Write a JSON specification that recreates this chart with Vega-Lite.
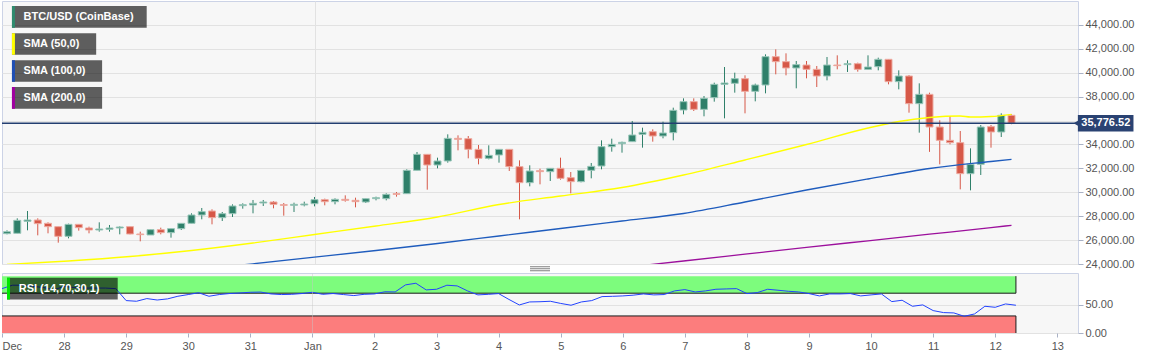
{
"$schema": "https://vega.github.io/schema/vega-lite/v6.json",
"padding": 0,
"background": "white",
"bounds": "flush",
"spacing": 9,
"config": {
  "font": "Liberation Sans",
  "view": {"fill": "#f7f7f7", "stroke": "#ccd3e6", "strokeWidth": 1},
  "axis": {"labelColor": "#555555", "labelFontSize": 11, "tickColor": "#a9b1c5", "gridColor": "#e2e2e2", "title": null, "domain": false, "labelOverlap": false}
},
"datasets": {
  "candles": [
{"t":"2020-12-27T00:00","o":26538,"h":26817,"l":26482,"c":26705,"r":78},
{"t":"2020-12-27T04:00","o":26566,"h":27820,"l":26566,"c":27653,"r":84},
{"t":"2020-12-27T08:00","o":27569,"h":28434,"l":26817,"c":27681,"r":84},
{"t":"2020-12-27T12:00","o":27681,"h":27820,"l":26398,"c":27374,"r":82},
{"t":"2020-12-27T16:00","o":27402,"h":27486,"l":26566,"c":27123,"r":80},
{"t":"2020-12-27T20:00","o":27123,"h":27123,"l":25785,"c":26315,"r":76},
{"t":"2020-12-28T00:00","o":26315,"h":27374,"l":26147,"c":27318,"r":81.7},
{"t":"2020-12-28T04:00","o":27318,"h":27318,"l":26789,"c":27040,"r":80},
{"t":"2020-12-28T08:00","o":27012,"h":27123,"l":26566,"c":26845,"r":79},
{"t":"2020-12-28T12:00","o":26845,"h":27486,"l":26705,"c":26928,"r":79},
{"t":"2020-12-28T16:00","o":26900,"h":27263,"l":26705,"c":27012,"r":79},
{"t":"2020-12-28T20:00","o":27012,"h":27151,"l":26482,"c":27095,"r":78},
{"t":"2020-12-29T00:00","o":27123,"h":27123,"l":26482,"c":26510,"r":57},
{"t":"2020-12-29T04:00","o":26510,"h":26705,"l":25896,"c":26454,"r":55.8},
{"t":"2020-12-29T08:00","o":26426,"h":26873,"l":26426,"c":26873,"r":60.5},
{"t":"2020-12-29T12:00","o":26873,"h":27040,"l":26482,"c":26622,"r":58},
{"t":"2020-12-29T16:00","o":26622,"h":26956,"l":26203,"c":26956,"r":60},
{"t":"2020-12-29T20:00","o":26956,"h":27402,"l":26845,"c":27402,"r":64.6},
{"t":"2020-12-30T00:00","o":27402,"h":28239,"l":27402,"c":28099,"r":67.6},
{"t":"2020-12-30T04:00","o":28099,"h":28685,"l":27737,"c":28378,"r":70.8},
{"t":"2020-12-30T08:00","o":28434,"h":28573,"l":27318,"c":27876,"r":64.6},
{"t":"2020-12-30T12:00","o":27876,"h":28350,"l":27597,"c":28211,"r":67.6},
{"t":"2020-12-30T16:00","o":28211,"h":28991,"l":27932,"c":28852,"r":69.4},
{"t":"2020-12-30T20:00","o":28880,"h":29075,"l":28629,"c":28963,"r":70.4},
{"t":"2020-12-31T00:00","o":28936,"h":29354,"l":28239,"c":29075,"r":71.6},
{"t":"2020-12-31T04:00","o":29103,"h":29354,"l":28852,"c":29187,"r":72},
{"t":"2020-12-31T08:00","o":29187,"h":29270,"l":28657,"c":28991,"r":68.7},
{"t":"2020-12-31T12:00","o":28963,"h":29103,"l":28043,"c":28908,"r":67.6},
{"t":"2020-12-31T16:00","o":28908,"h":29131,"l":28350,"c":28991,"r":68},
{"t":"2020-12-31T20:00","o":28936,"h":29214,"l":28824,"c":29019,"r":69.4},
{"t":"2021-01-01T00:00","o":29047,"h":29605,"l":28824,"c":29382,"r":71.6},
{"t":"2021-01-01T04:00","o":29382,"h":29465,"l":28908,"c":29214,"r":68},
{"t":"2021-01-01T08:00","o":29214,"h":29493,"l":28991,"c":29410,"r":69.4},
{"t":"2021-01-01T12:00","o":29410,"h":29744,"l":29214,"c":29326,"r":67.6},
{"t":"2021-01-01T16:00","o":29326,"h":29549,"l":28740,"c":29214,"r":65.8},
{"t":"2021-01-01T20:00","o":29187,"h":29465,"l":29103,"c":29465,"r":68},
{"t":"2021-01-02T00:00","o":29465,"h":29633,"l":29326,"c":29549,"r":68.7},
{"t":"2021-01-02T04:00","o":29465,"h":29911,"l":29326,"c":29828,"r":72.5},
{"t":"2021-01-02T08:00","o":29884,"h":30023,"l":29633,"c":29828,"r":72.2},
{"t":"2021-01-02T12:00","o":29884,"h":31919,"l":29884,"c":31835,"r":84.6},
{"t":"2021-01-02T16:00","o":31835,"h":33369,"l":31835,"c":33174,"r":87.5},
{"t":"2021-01-02T20:00","o":33174,"h":33174,"l":30218,"c":32281,"r":75.8},
{"t":"2021-01-03T00:00","o":32281,"h":32895,"l":32003,"c":32616,"r":76.9},
{"t":"2021-01-03T04:00","o":32616,"h":34847,"l":32477,"c":34512,"r":84},
{"t":"2021-01-03T08:00","o":34512,"h":34763,"l":33508,"c":34428,"r":82.8},
{"t":"2021-01-03T12:00","o":34484,"h":34707,"l":32839,"c":33592,"r":74},
{"t":"2021-01-03T16:00","o":33592,"h":33955,"l":32337,"c":32839,"r":67},
{"t":"2021-01-03T20:00","o":32839,"h":33927,"l":32756,"c":33090,"r":68},
{"t":"2021-01-04T00:00","o":33118,"h":33592,"l":32477,"c":33592,"r":69.3},
{"t":"2021-01-04T04:00","o":33592,"h":33592,"l":31780,"c":32142,"r":59},
{"t":"2021-01-04T08:00","o":32142,"h":32672,"l":27737,"c":30804,"r":49.3},
{"t":"2021-01-04T12:00","o":30804,"h":32254,"l":30497,"c":31780,"r":54.6},
{"t":"2021-01-04T16:00","o":31807,"h":31975,"l":30664,"c":31724,"r":55},
{"t":"2021-01-04T20:00","o":31724,"h":32003,"l":30943,"c":32003,"r":55.8},
{"t":"2021-01-05T00:00","o":32003,"h":32895,"l":31055,"c":31166,"r":52},
{"t":"2021-01-05T04:00","o":31222,"h":31696,"l":29911,"c":30887,"r":48.8},
{"t":"2021-01-05T08:00","o":30887,"h":31863,"l":30831,"c":31835,"r":54.6},
{"t":"2021-01-05T12:00","o":31835,"h":32449,"l":31166,"c":32170,"r":57},
{"t":"2021-01-05T16:00","o":32198,"h":34345,"l":31919,"c":33815,"r":64},
{"t":"2021-01-05T20:00","o":33815,"h":34484,"l":33397,"c":34010,"r":64.5},
{"t":"2021-01-06T00:00","o":34066,"h":34233,"l":33313,"c":34178,"r":65.2},
{"t":"2021-01-06T04:00","o":34233,"h":35962,"l":34233,"c":34791,"r":66.5},
{"t":"2021-01-06T08:00","o":34847,"h":35404,"l":33731,"c":35014,"r":68.7},
{"t":"2021-01-06T12:00","o":35070,"h":35265,"l":34233,"c":34707,"r":67},
{"t":"2021-01-06T16:00","o":34707,"h":35906,"l":34512,"c":34958,"r":67.6},
{"t":"2021-01-06T20:00","o":34986,"h":37077,"l":34345,"c":36854,"r":74},
{"t":"2021-01-07T00:00","o":36882,"h":37858,"l":36520,"c":37579,"r":76.3},
{"t":"2021-01-07T04:00","o":37579,"h":37858,"l":36798,"c":36938,"r":72.2},
{"t":"2021-01-07T08:00","o":36938,"h":38053,"l":36353,"c":37858,"r":74},
{"t":"2021-01-07T12:00","o":37914,"h":39169,"l":37579,"c":39029,"r":76.9},
{"t":"2021-01-07T16:00","o":39029,"h":40479,"l":36185,"c":39141,"r":77.5},
{"t":"2021-01-07T20:00","o":39113,"h":40005,"l":38332,"c":39503,"r":78},
{"t":"2021-01-08T00:00","o":39503,"h":39782,"l":36603,"c":38444,"r":69.3},
{"t":"2021-01-08T04:00","o":38444,"h":39085,"l":37607,"c":38974,"r":71},
{"t":"2021-01-08T08:00","o":38974,"h":41539,"l":38276,"c":41344,"r":76.9},
{"t":"2021-01-08T12:00","o":41344,"h":41957,"l":39866,"c":40925,"r":75.2},
{"t":"2021-01-08T16:00","o":40925,"h":41622,"l":39782,"c":40396,"r":73.4},
{"t":"2021-01-08T20:00","o":40396,"h":40981,"l":38695,"c":40674,"r":72.2},
{"t":"2021-01-09T00:00","o":40646,"h":40981,"l":39531,"c":40284,"r":69.3},
{"t":"2021-01-09T04:00","o":40284,"h":40563,"l":38806,"c":39726,"r":65.2},
{"t":"2021-01-09T08:00","o":39726,"h":41316,"l":39364,"c":40646,"r":68.7},
{"t":"2021-01-09T12:00","o":40646,"h":41455,"l":40284,"c":40591,"r":68.7},
{"t":"2021-01-09T16:00","o":40674,"h":41037,"l":40061,"c":40758,"r":69.3},
{"t":"2021-01-09T20:00","o":40758,"h":40842,"l":40089,"c":40284,"r":65.2},
{"t":"2021-01-10T00:00","o":40284,"h":41455,"l":40284,"c":40479,"r":67},
{"t":"2021-01-10T04:00","o":40507,"h":41260,"l":40200,"c":41121,"r":68.7},
{"t":"2021-01-10T08:00","o":41121,"h":41121,"l":39029,"c":39252,"r":55.2},
{"t":"2021-01-10T12:00","o":39252,"h":40200,"l":38611,"c":39726,"r":57.6},
{"t":"2021-01-10T16:00","o":39726,"h":39810,"l":36659,"c":37412,"r":47},
{"t":"2021-01-10T20:00","o":37412,"h":39113,"l":34986,"c":38193,"r":49.4},
{"t":"2021-01-11T00:00","o":38193,"h":38332,"l":33380,"c":35460,"r":39.4},
{"t":"2021-01-11T04:00","o":35460,"h":36020,"l":32337,"c":34344,"r":35.9},
{"t":"2021-01-11T08:00","o":34344,"h":36380,"l":34010,"c":34149,"r":35.3},
{"t":"2021-01-11T12:00","o":34149,"h":35125,"l":30245,"c":31556,"r":29.4},
{"t":"2021-01-11T16:00","o":31556,"h":33675,"l":30162,"c":32337,"r":33.5},
{"t":"2021-01-11T20:00","o":32337,"h":35627,"l":31446,"c":35460,"r":47},
{"t":"2021-01-12T00:00","o":35488,"h":35627,"l":33730,"c":35042,"r":45.2},
{"t":"2021-01-12T04:00","o":35042,"h":36605,"l":34623,"c":36438,"r":51.1},
{"t":"2021-01-12T08:00","o":36438,"h":36521,"l":35690,"c":35776.52,"r":48.8}
  ],
  "sma": [
{"t":"2020-12-27T00:00","s":"SMA (50,0)","v":23958},
{"t":"2020-12-28T00:00","s":"SMA (50,0)","v":24251},
{"t":"2020-12-29T00:00","s":"SMA (50,0)","v":24628},
{"t":"2020-12-30T00:00","s":"SMA (50,0)","v":25130},
{"t":"2020-12-31T00:00","s":"SMA (50,0)","v":25757},
{"t":"2021-01-01T00:00","s":"SMA (50,0)","v":26468},
{"t":"2021-01-02T00:00","s":"SMA (50,0)","v":27179},
{"t":"2021-01-03T00:00","s":"SMA (50,0)","v":27932},
{"t":"2021-01-04T00:00","s":"SMA (50,0)","v":28977},
{"t":"2021-01-05T00:00","s":"SMA (50,0)","v":29688},
{"t":"2021-01-06T00:00","s":"SMA (50,0)","v":30399},
{"t":"2021-01-07T00:00","s":"SMA (50,0)","v":31445},
{"t":"2021-01-08T00:00","s":"SMA (50,0)","v":32700},
{"t":"2021-01-09T00:00","s":"SMA (50,0)","v":33996},
{"t":"2021-01-10T00:00","s":"SMA (50,0)","v":35377},
{"t":"2021-01-10T12:00","s":"SMA (50,0)","v":35920},
{"t":"2021-01-11T00:00","s":"SMA (50,0)","v":36255},
{"t":"2021-01-11T12:00","s":"SMA (50,0)","v":36380},
{"t":"2021-01-11T16:00","s":"SMA (50,0)","v":36297},
{"t":"2021-01-12T00:00","s":"SMA (50,0)","v":36339},
{"t":"2021-01-12T08:00","s":"SMA (50,0)","v":36522},
{"t":"2020-12-30T00:00","s":"SMA (100,0)","v":23473},
{"t":"2020-12-31T00:00","s":"SMA (100,0)","v":24017},
{"t":"2021-01-01T00:00","s":"SMA (100,0)","v":24569},
{"t":"2021-01-02T00:00","s":"SMA (100,0)","v":25129},
{"t":"2021-01-03T00:00","s":"SMA (100,0)","v":25715},
{"t":"2021-01-04T00:00","s":"SMA (100,0)","v":26342},
{"t":"2021-01-05T00:00","s":"SMA (100,0)","v":26970},
{"t":"2021-01-06T00:00","s":"SMA (100,0)","v":27597},
{"t":"2021-01-07T00:00","s":"SMA (100,0)","v":28224},
{"t":"2021-01-08T00:00","s":"SMA (100,0)","v":29186},
{"t":"2021-01-09T00:00","s":"SMA (100,0)","v":30190},
{"t":"2021-01-10T00:00","s":"SMA (100,0)","v":31110},
{"t":"2021-01-11T00:00","s":"SMA (100,0)","v":31989},
{"t":"2021-01-12T00:00","s":"SMA (100,0)","v":32574},
{"t":"2021-01-12T08:00","s":"SMA (100,0)","v":32758},
{"t":"2021-01-06T00:00","s":"SMA (200,0)","v":23690},
{"t":"2021-01-07T00:00","s":"SMA (200,0)","v":24251},
{"t":"2021-01-08T00:00","s":"SMA (200,0)","v":24820},
{"t":"2021-01-09T00:00","s":"SMA (200,0)","v":25389},
{"t":"2021-01-10T00:00","s":"SMA (200,0)","v":25941},
{"t":"2021-01-11T00:00","s":"SMA (200,0)","v":26493},
{"t":"2021-01-12T00:00","s":"SMA (200,0)","v":27045},
{"t":"2021-01-12T08:00","s":"SMA (200,0)","v":27237}
  ],
  "bands": [
    {"zone": "overbought", "lo": 70, "hi": 100, "edge": 70},
    {"zone": "oversold", "lo": 0, "hi": 30, "edge": 30}
  ]
},
"vconcat": [
{
  "width": 1076,
  "height": 263,
  "layer": [
    {
      "data": {"name": "candles"},
      "mark": {"type": "rule", "clip": true, "strokeWidth": 1},
      "encoding": {
        "x": {"field": "t", "type": "temporal",
              "scale": {"domain": [{"year": 2020, "month": 12, "date": 27}, {"year": 2021, "month": 1, "date": 13, "hours": 8}]},
              "axis": {"values": [{"year": 2021, "month": 1, "date": 1}], "tickCount": 40, "labels": false, "ticks": false, "domain": false, "grid": true, "gridColor": "#e2e2e2", "title": null}},
        "y": {"field": "l", "type": "quantitative",
              "scale": {"domain": [24000, 46000], "nice": false, "zero": false},
              "axis": {"orient": "right", "values": [24000, 26000, 28000, 30000, 32000, 34000, 36000, 38000, 40000, 42000, 44000], "tickCount": 30, "labelExpr": "datum.value == 36000 ? '' : format(datum.value, ',.2f')", "labelOverlap": false, "grid": true, "tickSize": 5, "labelPadding": 2, "domain": false, "title": null}},
        "y2": {"field": "h"},
        "color": {"condition": {"test": "datum.c >= datum.o", "value": "#2f806a"}, "value": "#d65848"}
      }
    },
    {
      "data": {"name": "candles"},
      "mark": {"type": "bar", "clip": true, "width": 7, "strokeWidth": 1},
      "encoding": {
        "x": {"field": "t", "type": "temporal"},
        "y": {"field": "o", "type": "quantitative"},
        "y2": {"field": "c"},
        "fill": {"condition": {"test": "datum.c >= datum.o", "value": "#2f806a"}, "value": "#d65848"},
        "stroke": {"condition": {"test": "datum.c >= datum.o", "value": "#98c6b9"}, "value": "#eeaaa0"}
      }
    },
    {
      "data": {"name": "sma"},
      "mark": {"type": "line", "clip": true, "strokeWidth": 1.3, "interpolate": "monotone"},
      "encoding": {
        "x": {"field": "t", "type": "temporal"},
        "y": {"field": "v", "type": "quantitative"},
        "color": {"field": "s", "type": "nominal", "scale": {"domain": ["SMA (50,0)", "SMA (100,0)", "SMA (200,0)"], "range": ["#ffff00", "#1f5cbd", "#9c109c"]}, "legend": null}
      }
    },
    {
      "data": {"values": [{}]},
      "mark": {"type": "rule", "color": "#233e70", "strokeWidth": 1.5},
      "encoding": {"y": {"datum": 35776.52}}
    },
    {
      "data": {"values": [{}]},
      "mark": {"type": "rect", "color": "#2a4272", "clip": false},
      "encoding": {
        "x": {"datum": {"year": 2021, "month": 1, "date": 13, "hours": 9, "minutes": 54}, "type": "temporal"},
        "x2": {"datum": {"year": 2021, "month": 1, "date": 14, "hours": 7, "minutes": 36}},
        "y": {"datum": 36464}, "y2": {"datum": 35084}
      }
    },
    {
      "data": {"values": [{}]},
      "mark": {"type": "point", "shape": "triangle-left", "filled": true, "color": "#2a4272", "size": 30, "opacity": 1, "clip": false},
      "encoding": {
        "x": {"datum": {"year": 2021, "month": 1, "date": 13, "hours": 9, "minutes": 10}, "type": "temporal"},
        "y": {"datum": 35776.52}
      }
    },
    {
      "data": {"values": [{}]},
      "mark": {"type": "text", "color": "white", "fontWeight": "bold", "fontSize": 11, "align": "center", "baseline": "middle", "clip": false},
      "encoding": {
        "x": {"datum": {"year": 2021, "month": 1, "date": 13, "hours": 20, "minutes": 48}, "type": "temporal"},
        "y": {"datum": 35776.52},
        "text": {"value": "35,776.52"}
      }
    },
    {
      "data": {"values": [{}]},
      "mark": {"type": "rect", "color": "black", "opacity": 0.62},
      "encoding": {
        "x": {"datum": {"year": 2020, "month": 12, "date": 27, "hours": 1, "minutes": 56}, "type": "temporal"},
        "x2": {"datum": {"year": 2020, "month": 12, "date": 29, "hours": 6, "minutes": 31}},
        "y": {"datum": 45582}, "y2": {"datum": 43767}
      }
    },
    {
      "data": {"values": [{}]},
      "mark": {"type": "rect", "color": "black", "opacity": 0.62},
      "encoding": {
        "x": {"datum": {"year": 2020, "month": 12, "date": 27, "hours": 1, "minutes": 56}, "type": "temporal"},
        "x2": {"datum": {"year": 2020, "month": 12, "date": 28, "hours": 10, "minutes": 48}},
        "y": {"datum": 43298}, "y2": {"datum": 41508}
      }
    },
    {
      "data": {"values": [{}]},
      "mark": {"type": "rect", "color": "black", "opacity": 0.62},
      "encoding": {
        "x": {"datum": {"year": 2020, "month": 12, "date": 27, "hours": 1, "minutes": 56}, "type": "temporal"},
        "x2": {"datum": {"year": 2020, "month": 12, "date": 28, "hours": 13, "minutes": 7}},
        "y": {"datum": 41040}, "y2": {"datum": 39250}
      }
    },
    {
      "data": {"values": [{}]},
      "mark": {"type": "rect", "color": "black", "opacity": 0.62},
      "encoding": {
        "x": {"datum": {"year": 2020, "month": 12, "date": 27, "hours": 1, "minutes": 56}, "type": "temporal"},
        "x2": {"datum": {"year": 2020, "month": 12, "date": 28, "hours": 13, "minutes": 7}},
        "y": {"datum": 38806}, "y2": {"datum": 36991}
      }
    },
    {
      "data": {"values": [{}]},
      "mark": {"type": "rect", "color": "#2e8b6e"},
      "encoding": {
        "x": {"datum": {"year": 2020, "month": 12, "date": 27, "hours": 1, "minutes": 56}, "type": "temporal"},
        "x2": {"datum": {"year": 2020, "month": 12, "date": 27, "hours": 3, "minutes": 6}},
        "y": {"datum": 45582}, "y2": {"datum": 43767}
      }
    },
    {
      "data": {"values": [{}]},
      "mark": {"type": "rect", "color": "#ffff00"},
      "encoding": {
        "x": {"datum": {"year": 2020, "month": 12, "date": 27, "hours": 1, "minutes": 56}, "type": "temporal"},
        "x2": {"datum": {"year": 2020, "month": 12, "date": 27, "hours": 3, "minutes": 6}},
        "y": {"datum": 43298}, "y2": {"datum": 41508}
      }
    },
    {
      "data": {"values": [{}]},
      "mark": {"type": "rect", "color": "#1f4fb5"},
      "encoding": {
        "x": {"datum": {"year": 2020, "month": 12, "date": 27, "hours": 1, "minutes": 56}, "type": "temporal"},
        "x2": {"datum": {"year": 2020, "month": 12, "date": 27, "hours": 3, "minutes": 6}},
        "y": {"datum": 41040}, "y2": {"datum": 39250}
      }
    },
    {
      "data": {"values": [{}]},
      "mark": {"type": "rect", "color": "#a000a0"},
      "encoding": {
        "x": {"datum": {"year": 2020, "month": 12, "date": 27, "hours": 1, "minutes": 56}, "type": "temporal"},
        "x2": {"datum": {"year": 2020, "month": 12, "date": 27, "hours": 3, "minutes": 6}},
        "y": {"datum": 38806}, "y2": {"datum": 36991}
      }
    },
    {
      "data": {"values": [{}]},
      "mark": {"type": "text", "color": "white", "fontWeight": "bold", "fontSize": 11, "align": "left", "baseline": "middle"},
      "encoding": {
        "x": {"datum": {"year": 2020, "month": 12, "date": 27, "hours": 6, "minutes": 28}, "type": "temporal"},
        "y": {"datum": 44662},
        "text": {"value": "BTC/USD (CoinBase)"}
      }
    },
    {
      "data": {"values": [{}]},
      "mark": {"type": "text", "color": "white", "fontWeight": "bold", "fontSize": 11, "align": "left", "baseline": "middle"},
      "encoding": {
        "x": {"datum": {"year": 2020, "month": 12, "date": 27, "hours": 6, "minutes": 28}, "type": "temporal"},
        "y": {"datum": 42403},
        "text": {"value": "SMA (50,0)"}
      }
    },
    {
      "data": {"values": [{}]},
      "mark": {"type": "text", "color": "white", "fontWeight": "bold", "fontSize": 11, "align": "left", "baseline": "middle"},
      "encoding": {
        "x": {"datum": {"year": 2020, "month": 12, "date": 27, "hours": 6, "minutes": 28}, "type": "temporal"},
        "y": {"datum": 40145},
        "text": {"value": "SMA (100,0)"}
      }
    },
    {
      "data": {"values": [{}]},
      "mark": {"type": "text", "color": "white", "fontWeight": "bold", "fontSize": 11, "align": "left", "baseline": "middle"},
      "encoding": {
        "x": {"datum": {"year": 2020, "month": 12, "date": 27, "hours": 6, "minutes": 28}, "type": "temporal"},
        "y": {"datum": 37903},
        "text": {"value": "SMA (200,0)"}
      }
    }
  ]
},
{
  "width": 1076,
  "height": 60,
  "layer": [
    {
      "data": {"name": "candles"},
      "mark": {"type": "line", "color": "#2343ff", "strokeWidth": 1, "strokeOpacity": 0, "clip": true},
      "encoding": {
        "x": {"field": "t", "type": "temporal",
              "scale": {"domain": [{"year": 2020, "month": 12, "date": 27}, {"year": 2021, "month": 1, "date": 13, "hours": 8}]},
              "axis": {"orient": "bottom", "zindex": 1, "tickCount": 60,
                       "values": [{"year": 2020, "month": 12, "date": 27}, {"year": 2020, "month": 12, "date": 28}, {"year": 2020, "month": 12, "date": 29}, {"year": 2020, "month": 12, "date": 30}, {"year": 2020, "month": 12, "date": 31}, {"year": 2021, "month": 1, "date": 1}, {"year": 2021, "month": 1, "date": 2}, {"year": 2021, "month": 1, "date": 3}, {"year": 2021, "month": 1, "date": 4}, {"year": 2021, "month": 1, "date": 5}, {"year": 2021, "month": 1, "date": 6}, {"year": 2021, "month": 1, "date": 7}, {"year": 2021, "month": 1, "date": 8}, {"year": 2021, "month": 1, "date": 9}, {"year": 2021, "month": 1, "date": 10}, {"year": 2021, "month": 1, "date": 11}, {"year": 2021, "month": 1, "date": 12}, {"year": 2021, "month": 1, "date": 13}],
                       "labelExpr": "(date(datum.value) == 1 || (month(datum.value) == 11 && date(datum.value) == 27)) ? timeFormat(datum.value, '%b') : timeFormat(datum.value, '%-d')",
                       "labelFlush": true, "labelOverlap": false, "tickSize": 4, "labelPadding": 3, "domain": false, "title": null,
                       "grid": true, "gridColor": "#c8c8c8",
                       "gridOpacity": {"condition": {"test": "date(datum.value) == 1", "value": 0.45}, "value": 0}}},
        "y": {"field": "r", "type": "quantitative",
              "scale": {"domain": [0, 105.5], "nice": false, "zero": false},
              "axis": {"orient": "right", "values": [0, 50], "tickCount": 10, "format": ".2f", "grid": true, "tickSize": 5, "labelPadding": 2, "domain": false, "title": null}}
      }
    },
    {
      "data": {"name": "bands"},
      "mark": {"type": "rect", "clip": true},
      "encoding": {
        "x": {"datum": {"year": 2020, "month": 12, "date": 26, "hours": 20}, "type": "temporal"},
        "x2": {"datum": {"year": 2021, "month": 1, "date": 12, "hours": 8}},
        "y": {"field": "lo", "type": "quantitative"},
        "y2": {"field": "hi"},
        "fill": {"field": "zone", "type": "nominal", "scale": {"domain": ["overbought", "oversold"], "range": ["#7dfc7d", "#fc7d7d"]}, "legend": null}
      }
    },
    {
      "data": {"name": "bands"},
      "mark": {"type": "rule", "color": "#1a1a1a", "strokeWidth": 1, "clip": true},
      "encoding": {
        "x": {"datum": {"year": 2020, "month": 12, "date": 26, "hours": 20}, "type": "temporal"},
        "x2": {"datum": {"year": 2021, "month": 1, "date": 12, "hours": 8}},
        "y": {"field": "edge", "type": "quantitative"}
      }
    },
    {
      "data": {"name": "bands"},
      "mark": {"type": "rule", "color": "#1a1a1a", "strokeWidth": 1, "clip": true},
      "encoding": {
        "x": {"datum": {"year": 2021, "month": 1, "date": 12, "hours": 8}, "type": "temporal"},
        "y": {"field": "lo", "type": "quantitative"},
        "y2": {"field": "hi"}
      }
    },
    {
      "data": {"name": "candles"},
      "mark": {"type": "line", "color": "#2343ff", "strokeWidth": 1, "clip": true},
      "encoding": {
        "x": {"field": "t", "type": "temporal"},
        "y": {"field": "r", "type": "quantitative"}
      }
    },
    {
      "data": {"values": [{}]},
      "mark": {"type": "rect", "color": "black", "opacity": 0.62},
      "encoding": {
        "x": {"datum": {"year": 2020, "month": 12, "date": 27, "hours": 1, "minutes": 56}, "type": "temporal"},
        "x2": {"datum": {"year": 2020, "month": 12, "date": 28, "hours": 20, "minutes": 44}},
        "y": {"datum": 97.2}, "y2": {"datum": 59.1}
      }
    },
    {
      "data": {"values": [{}]},
      "mark": {"type": "rect", "color": "#00e600"},
      "encoding": {
        "x": {"datum": {"year": 2020, "month": 12, "date": 27, "hours": 1, "minutes": 56}, "type": "temporal"},
        "x2": {"datum": {"year": 2020, "month": 12, "date": 27, "hours": 3, "minutes": 6}},
        "y": {"datum": 97.2}, "y2": {"datum": 59.1}
      }
    },
    {
      "data": {"values": [{}]},
      "mark": {"type": "text", "color": "white", "fontWeight": "bold", "fontSize": 11, "align": "left", "baseline": "middle"},
      "encoding": {
        "x": {"datum": {"year": 2020, "month": 12, "date": 27, "hours": 6, "minutes": 28}, "type": "temporal"},
        "y": {"datum": 77.9},
        "text": {"value": "RSI (14,70,30,1)"}
      }
    },
    {
      "data": {"values": [{}]},
      "mark": {"type": "rule", "color": "#808080", "strokeWidth": 20, "strokeDash": [1, 1], "clip": false},
      "encoding": {
        "x": {"datum": {"year": 2021, "month": 1, "date": 4, "hours": 16}, "type": "temporal"},
        "y": {"datum": 117.5},
        "y2": {"datum": 108.7}
      }
    }
  ]
}
]
}
